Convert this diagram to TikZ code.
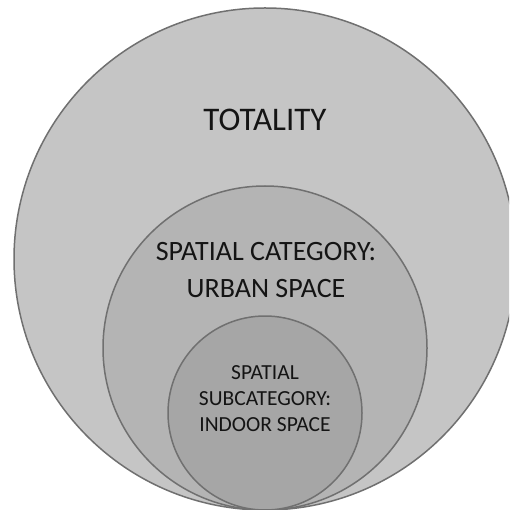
\documentclass[tikz,border=0pt]{standalone}
\usepackage{fontspec}
\setmainfont{Carlito}
\definecolor{ringline}{RGB}{112,112,112}
\definecolor{fillA}{RGB}{197,197,197}
\definecolor{fillB}{RGB}{180,180,180}
\definecolor{fillC}{RGB}{166,166,166}
\definecolor{inktext}{RGB}{20,20,20}
\tikzset{
  ring/.style={draw=ringline, line width=1.5pt},
  lbl/.style={anchor=base, inner sep=0pt, text=inktext},
}
\begin{document}
\begin{tikzpicture}[x=1pt,y=-1pt]
\useasboundingbox (0,0) rectangle (509,510);
\clip (0,0) rectangle (509,510);
\fill[white] (0,0) rectangle (509,510);
\draw[ring, fill=fillA] (265,259) circle [radius=251];
\draw[ring, fill=fillB] (265,348) circle [radius=162];
\draw[ring, fill=fillC] (265,413) circle [radius=97];
\node[lbl, font=\fontsize{33}{37}\selectfont] (tot) at (265,131) {TOTALITY};
\node[lbl, font=\fontsize{28}{37}\selectfont] (cat1) at (266,260) {SPATIAL CATEGORY:};
\node[lbl, font=\fontsize{28}{37}\selectfont] (cat2) at (266,297) {URBAN SPACE};
\node[lbl, font=\fontsize{21.5}{26}\selectfont] (sub1) at (265,379) {SPATIAL};
\node[lbl, font=\fontsize{21.5}{26}\selectfont] (sub2) at (265,405) {SUBCATEGORY:};
\node[lbl, font=\fontsize{21.5}{26}\selectfont] (sub3) at (265,431) {INDOOR SPACE};
\end{tikzpicture}
\end{document}
